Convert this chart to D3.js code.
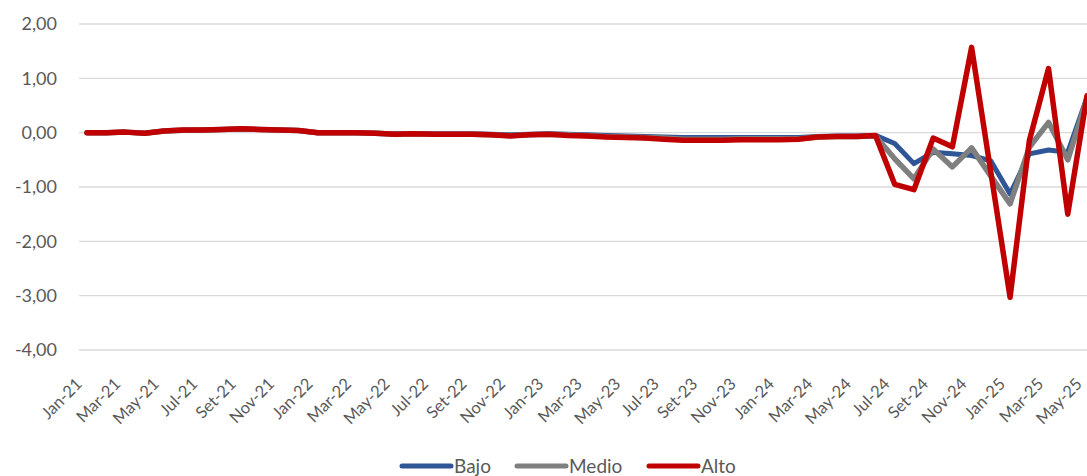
<!DOCTYPE html>
<html>
<head>
<meta charset="UTF-8">
<style>
  body { margin: 0; background: #fff; }
  svg text { font-family: Lato, "Liberation Sans", sans-serif; fill: #595959; }
  .grid line { stroke: #d9d9d9; stroke-width: 1.3px; }
  .serie { fill: none; stroke-linejoin: round; stroke-linecap: round; }
</style>
<script src="https://d3js.org/d3.v7.min.js"></script>
</head>
<body>
<svg width="1087" height="476"></svg>
<script>
var months = [
  "Jan-21","Feb-21","Mar-21","Apr-21","May-21","Jun-21","Jul-21","Aug-21","Set-21","Oct-21","Nov-21","Dec-21",
  "Jan-22","Feb-22","Mar-22","Apr-22","May-22","Jun-22","Jul-22","Aug-22","Set-22","Oct-22","Nov-22","Dec-22",
  "Jan-23","Feb-23","Mar-23","Apr-23","May-23","Jun-23","Jul-23","Aug-23","Set-23","Oct-23","Nov-23","Dec-23",
  "Jan-24","Feb-24","Mar-24","Apr-24","May-24","Jun-24","Jul-24","Aug-24","Set-24","Oct-24","Nov-24","Dec-24",
  "Jan-25","Feb-25","Mar-25","Apr-25","May-25"
];

var bajo = [
  0, 0, 0.01, -0.01, 0.03, 0.04, 0.05, 0.06, 0.06, 0.06, 0.05, 0.04,
  0, 0, 0, -0.01, -0.02, -0.02, -0.02, -0.02, -0.02, -0.03, -0.04, -0.03,
  -0.02, -0.03, -0.04, -0.05, -0.06, -0.07, -0.08, -0.09, -0.09, -0.09, -0.09, -0.09,
  -0.09, -0.09, -0.07, -0.06, -0.06, -0.05, -0.20, -0.57, -0.36, -0.39, -0.42, -0.52,
  -1.13, -0.39, -0.32, -0.36, 0.65
];

var medio = [
  0, 0, 0.01, -0.01, 0.03, 0.05, 0.05, 0.06, 0.07, 0.06, 0.05, 0.04,
  0, 0, 0, -0.01, -0.03, -0.02, -0.03, -0.03, -0.03, -0.04, -0.05, -0.04,
  -0.03, -0.04, -0.05, -0.07, -0.08, -0.09, -0.10, -0.12, -0.12, -0.12, -0.11, -0.11,
  -0.11, -0.11, -0.08, -0.07, -0.07, -0.06, -0.48, -0.85, -0.30, -0.63, -0.28, -0.80,
  -1.31, -0.27, 0.19, -0.50, 0.63
];

var alto = [
  0, 0, 0.01, -0.01, 0.03, 0.05, 0.05, 0.06, 0.07, 0.06, 0.05, 0.04,
  0, 0, 0, -0.01, -0.03, -0.02, -0.03, -0.03, -0.03, -0.04, -0.06, -0.04,
  -0.03, -0.05, -0.06, -0.08, -0.09, -0.10, -0.12, -0.14, -0.14, -0.14, -0.13, -0.13,
  -0.13, -0.12, -0.08, -0.07, -0.07, -0.05, -0.95, -1.05, -0.10, -0.26, 1.57, -0.73,
  -3.03, -0.15, 1.18, -1.50, 0.68
];

var yTicks = [2, 1, 0, -1, -2, -3, -4];

var series = [
  {name: "Bajo", values: bajo, color: "#2f5597", width: 5},
  {name: "Medio", values: medio, color: "#7f7f7f", width: 5.5},
  {name: "Alto", values: alto, color: "#c00000", width: 5.5}
];

var svg = d3.select("svg");

var x = d3.scalePoint().domain(months).range([87, 1087]);
var y = d3.scaleLinear().domain([-4, 2]).range([350, 24]);
var fmt = function(d) { return d3.format(".2f")(d).replace(".", ",").replace("−", "-"); };

// gridlines
svg.append("g")
    .attr("class", "grid")
  .selectAll("line")
  .data(yTicks)
  .enter().append("line")
    .attr("x1", 79)
    .attr("x2", 1100)
    .attr("y1", function(d) { return y(d); })
    .attr("y2", function(d) { return y(d); });

// y labels
var yAxis = d3.axisLeft(y).tickValues(yTicks).tickSize(0).tickPadding(0).tickFormat(fmt);
svg.append("g")
    .attr("transform", "translate(57,0)")
    .call(yAxis)
    .call(function(g) { g.select(".domain").remove(); })
    .selectAll("text")
    .attr("font-size", 18)
    .attr("font-family", "Lato, sans-serif")
    .attr("fill", "#595959");

// x labels (every other month)
svg.append("g")
  .selectAll("text")
  .data(months.filter(function(d, i) { return i % 2 === 0; }))
  .enter().append("text")
    .attr("transform", function(d) { return "translate(" + (x(d) - 8) + ",381) rotate(-45)"; })
    .attr("text-anchor", "end")
    .attr("dy", "0.35em")
    .attr("font-size", 16.5)
    .text(function(d) { return d; });

// lines
var line = d3.line()
    .x(function(d, i) { return x(months[i]); })
    .y(function(d) { return y(d); });

svg.selectAll(".serie")
  .data(series)
  .enter().append("path")
    .attr("class", "serie")
    .attr("stroke", function(d) { return d.color; })
    .attr("stroke-width", function(d) { return d.width; })
    .attr("d", function(d) { return line(d.values); });

// legend
var legendX = [400, 515, 647];
var legend = svg.append("g")
  .selectAll("g")
  .data(series)
  .enter().append("g")
    .attr("transform", function(d, i) { return "translate(" + legendX[i] + ",466)"; });

legend.append("line")
    .attr("x1", 2).attr("x2", 51)
    .attr("stroke", function(d) { return d.color; })
    .attr("stroke-width", 5)
    .attr("stroke-linecap", "round");

legend.append("text")
    .attr("x", 54)
    .attr("dy", "0.35em")
    .attr("font-size", 19)
    .text(function(d) { return d.name; });
</script>
</body>
</html>
